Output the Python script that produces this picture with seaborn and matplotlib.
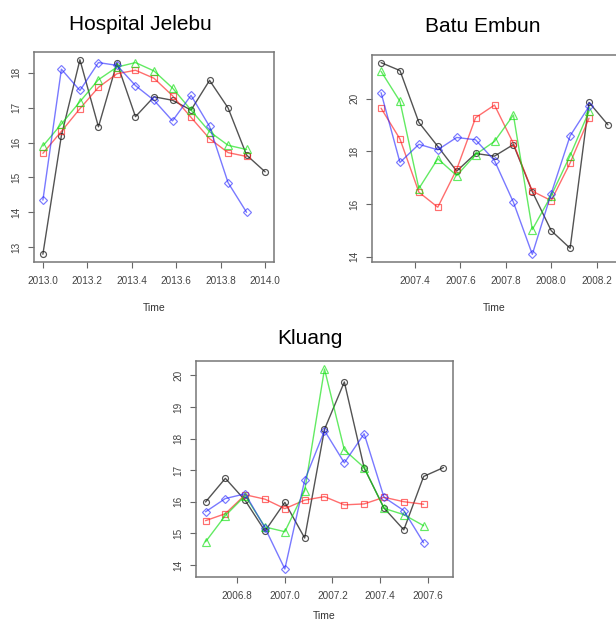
import numpy as np
import pandas as pd
import matplotlib
matplotlib.use("Agg")
import matplotlib.pyplot as plt
import seaborn as sns

sns.set_theme(style="white")
plt.rcParams["font.family"] = ["Liberation Sans", "DejaVu Sans"]

# ---- Hospital Jelebu (monthly, from 2013.0) ----
jelebu_start = 2013.0
jelebu_observed = [12.80, 16.20, 18.37, 16.45, 18.28, 16.74, 17.31, 17.21, 16.93, 17.78, 16.99, 15.64, 15.16]
jelebu_red = [15.69, 16.32, 16.97, 17.58, 17.97, 18.07, 17.84, 17.34, 16.72, 16.11, 15.71, 15.60]
jelebu_green = [15.90, 16.53, 17.17, 17.80, 18.16, 18.29, 18.05, 17.56, 16.93, 16.31, 15.92, 15.80]
jelebu_blue = [14.35, 18.10, 17.49, 18.29, 18.21, 17.63, 17.21, 16.62, 17.35, 16.46, 14.85, 14.00]
jelebu_xticks = [2013.0, 2013.2, 2013.4, 2013.6, 2013.8, 2014.0]
jelebu_yticks = [13, 14, 15, 16, 17, 18]

# ---- Batu Embun (monthly, from 2007.25) ----
batu_start = 2007.25
batu_observed = [21.37, 21.07, 19.10, 18.19, 17.25, 17.92, 17.82, 18.26, 16.47, 14.99, 14.32, 19.86, 19.01]
batu_red = [19.64, 18.47, 16.45, 15.88, 17.32, 19.28, 19.76, 18.30, 16.49, 16.13, 17.56, 19.26]
batu_green = [21.04, 19.90, 16.59, 17.72, 17.08, 17.88, 18.38, 19.38, 15.03, 16.32, 17.84, 19.52]
batu_blue = [20.23, 17.58, 18.27, 18.06, 18.53, 18.44, 17.65, 16.07, 14.09, 16.40, 18.59, 19.71]
batu_xticks = [2007.4, 2007.6, 2007.8, 2008.0, 2008.2]
batu_yticks = [14, 16, 18, 20]

# ---- Kluang (monthly, from 2006 + 8/12) ----
kluang_start = 2006 + 8 / 12
kluang_observed = [15.99, 16.74, 16.04, 15.07, 15.98, 14.85, 18.29, 19.79, 17.07, 15.80, 15.11, 16.80, 17.08]
kluang_red = [15.40, 15.62, 16.22, 16.08, 15.78, 16.05, 16.16, 15.90, 15.93, 16.14, 16.00, 15.92]
kluang_green = [14.73, 15.56, 16.19, 15.20, 15.05, 16.35, 20.20, 17.64, 17.08, 15.79, 15.59, 15.24]
kluang_blue = [15.68, 16.10, 16.25, 15.17, 13.87, 16.68, 18.25, 17.23, 18.15, 16.14, 15.72, 14.70]
kluang_xticks = [2006.8, 2007.0, 2007.2, 2007.4, 2007.6]
kluang_yticks = [14, 15, 16, 17, 18, 19, 20]

series_style = {
    "observed": dict(color="#1a1a1a", marker="o", alpha=0.75),
    "red": dict(color="#ff2020", marker="s", alpha=0.65),
    "green": dict(color="#10e010", marker="^", alpha=0.65),
    "blue": dict(color="#2020ff", marker="D", alpha=0.6),
}
marker_sizes = {"o": 4.3, "s": 4.3, "^": 5.2, "D": 4.2}


def build_frame(start, observed, red, green, blue):
    rows = []
    for name, vals in (("observed", observed), ("red", red),
                       ("green", green), ("blue", blue)):
        for k, v in enumerate(vals):
            rows.append({"Time": start + k / 12, "value": v, "series": name})
    return pd.DataFrame(rows)


def draw_panel(ax, df, xticks, yticks, xlabel_pad=12):
    for name, st in series_style.items():
        sub = df[df["series"] == name]
        sns.lineplot(data=sub, x="Time", y="value", ax=ax, color=st["color"],
                     marker=st["marker"], markersize=marker_sizes[st["marker"]],
                     markerfacecolor="none", markeredgecolor=st["color"],
                     markeredgewidth=0.85, linewidth=1.0, alpha=st["alpha"],
                     estimator=None, sort=False)
    # R-style 4% padding around the data range
    xmin, xmax = df["Time"].min(), df["Time"].max()
    ymin, ymax = df["value"].min(), df["value"].max()
    xp, yp = 0.04 * (xmax - xmin), 0.04 * (ymax - ymin)
    ax.set_xlim(xmin - xp, xmax + xp)
    ax.set_ylim(ymin - yp, ymax + yp)
    ax.set_xticks(xticks)
    ax.set_xticklabels([f"{t:.1f}" for t in xticks])
    ax.set_yticks(yticks)
    ax.set_yticklabels([str(t) for t in yticks], rotation=90, va="center")
    ax.tick_params(axis="both", direction="out", length=4, width=0.8,
                   color="#666666", labelcolor="#444444", labelsize=7.2,
                   bottom=True, left=True)
    ax.tick_params(axis="x", pad=6)
    ax.tick_params(axis="y", pad=5)
    for sp in ax.spines.values():
        sp.set_color("#777777")
        sp.set_linewidth(1.1)
    ax.set_ylabel("")
    ax.set_xlabel("Time", fontsize=7.5, color="#333333", labelpad=xlabel_pad)
    ax.grid(False)


W, H = 616, 622
fig = plt.figure(figsize=(W / 100, H / 100), dpi=100)
fig.patch.set_facecolor("white")


def axes_px(left, top, right, bottom):
    return fig.add_axes([left / W, 1 - bottom / H, (right - left) / W, (bottom - top) / H])


ax1 = axes_px(34, 52, 274, 262)
ax2 = axes_px(372, 55, 617, 262)
ax3 = axes_px(196, 361, 453, 577)

draw_panel(ax1, build_frame(jelebu_start, jelebu_observed, jelebu_red, jelebu_green, jelebu_blue),
           jelebu_xticks, jelebu_yticks)
draw_panel(ax2, build_frame(batu_start, batu_observed, batu_red, batu_green, batu_blue),
           batu_xticks, batu_yticks)
draw_panel(ax3, build_frame(kluang_start, kluang_observed, kluang_red, kluang_green, kluang_blue),
           kluang_xticks, kluang_yticks, xlabel_pad=7)

fig.text(140.5 / W, 1 - 24 / H, "Hospital Jelebu", ha="center", va="center", fontsize=15, color="black")
fig.text(483 / W, 1 - 27 / H, "Batu Embun", ha="center", va="center", fontsize=15, color="black")
fig.text(310 / W, 1 - 338 / H, "Kluang", ha="center", va="center", fontsize=15, color="black")

fig.savefig("out.png", dpi=100, facecolor="white")
